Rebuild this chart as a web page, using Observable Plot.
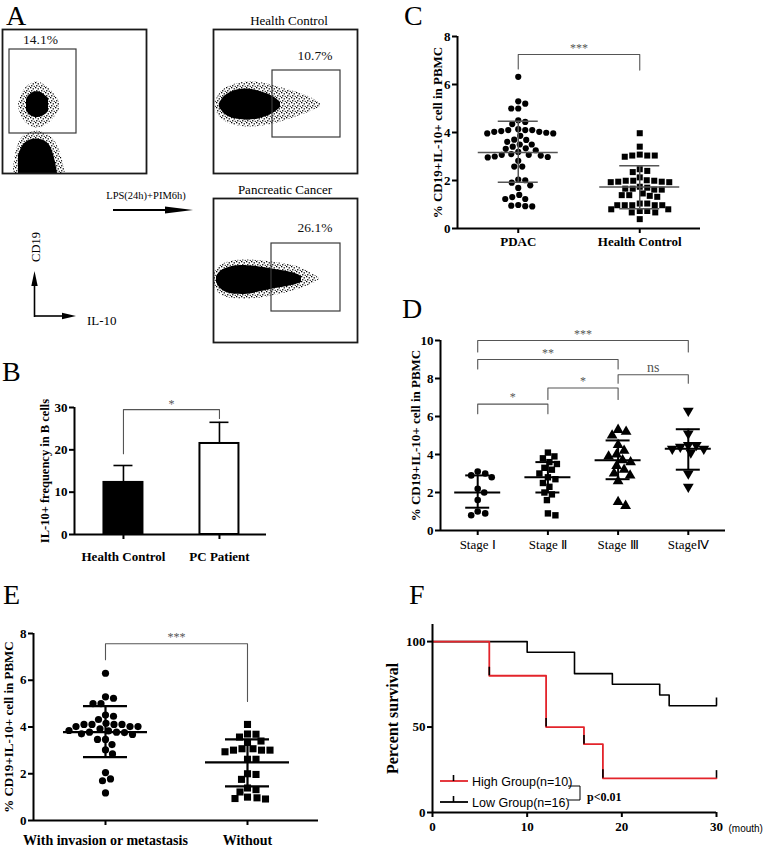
<!DOCTYPE html>
<html><head><meta charset="utf-8">
<script src="https://cdn.jsdelivr.net/npm/d3@7"></script>
<script src="https://cdn.jsdelivr.net/npm/@observablehq/plot@0.6"></script>
<style>
html,body{margin:0;padding:0;background:#fff;}
#fig{position:relative;width:763px;height:851px;overflow:hidden;background:#fff;}
#fig .p{position:absolute;}
#fig svg{overflow:visible;display:block;}
</style></head><body>
<svg width="0" height="0" style="position:absolute">
  <defs>
    <pattern id="speck" width="5" height="5" patternUnits="userSpaceOnUse">
      <rect x="0" y="0" width="1.3" height="1.3" fill="black"/>
      <rect x="2.6" y="1.2" width="1.3" height="1.3" fill="black"/>
      <rect x="1.1" y="3.1" width="1.3" height="1.3" fill="black"/>
      <rect x="3.7" y="3.8" width="1.1" height="1.1" fill="black"/>
    </pattern>
  </defs>
</svg>
<div id="fig"></div>
<script>
// ================= DATA =================
// ---- Panel A: flow cytometry (channel units 0-144) ----
const flowTitles = ["", "Health Control", "Pancreatic Cancer"];
const flowPct = ["14.1%", "10.7%", "26.1%"];
const flowPctX = [38, 101.5, 101.5];
const flowPctY = [133.5, 118, 114.5];
const flowGateX1 = [7, 59, 58];
const flowGateX2 = [74, 127, 127];
const flowGateY1 = [40, 36, 31];
const flowGateY2 = [124, 103, 99];
// blob outlines: [IL-10, lower CD19 edge, upper CD19 edge]
const leftUpperHalo = [[16,66,70],[19,56,80],[24,50,87],[30,46,91],[36,45,92],[42,47,89],[48,51,84],[53,57,78],[57,64,72]];
const leftUpperCore = [[24,63,74],[27,58,79],[32,56,82],[37,56,82],[42,58,79],[46,62,75]];
const leftLowerHalo = [[11,0,6],[14,0,26],[19,0,37],[26,0,41],[34,0,43],[42,0,41],[50,0,36],[56,0,27],[60,0,14],[63,0,0]];
const leftLowerCore = [[16,0,18],[20,0,29],[27,0,34],[35,0,35],[43,0,33],[49,0,27],[53,0,12],[55,0,0]];
const hcHalo = [[2,64,72],[6,56,81],[14,50,87],[26,47,91],[40,46,92],[54,48,90],[66,51,86],[78,55,83],[90,59,79],[100,63,75],[107,67,70]];
const hcCore = [[6,66,70],[10,60,77],[16,56,81],[24,54,84],[34,53,85],[44,54,83],[54,57,80],[62,61,76],[67,66,71]];
const pcHalo = [[0,58,66],[4,49,76],[14,44,81],[30,43,83],[46,44,82],[62,47,80],[78,51,78],[92,55,73],[102,60,67],[106,63,64]];
const pcCore = [[3,60,66],[7,53,72],[14,49,75],[24,48,77],[34,48,77],[44,50,76],[56,53,74],[68,55,72],[80,57,70],[88,60,66]];

// ---- Panel B ----
const bCats = ["Health Control", "PC Patient"];
const bMean = [12.3, 21.5];
const bSD = [4.0, 5.0];
const bTicks = [0, 10, 20, 30];

// ---- Panel C ----
const cCats = ["PDAC", "Health Control"];
const cPDAC = [6.32,5.2,5.0,5.0,5.3,4.44,4.35,4.51,4.14,4.10,4.06,3.99,3.96,3.86,3.96,4.03,4.03,4.10,4.10,
  3.70,3.61,3.50,3.41,3.50,3.69,3.32,3.19,3.07,2.96,3.00,2.98,3.04,3.07,2.82,3.10,3.26,3.34,
  2.58,2.58,2.01,1.80,1.91,2.04,1.69,1.23,1.40,1.31,1.23,0.93,0.92,0.95,0.98];
const cHC = [3.97,3.41,3.04,3.04,2.99,3.04,3.08,2.47,2.40,2.35,2.01,1.99,1.95,2.13,1.93,1.95,1.93,1.99,1.99,
  1.62,1.66,1.66,1.74,1.70,1.62,1.46,1.36,1.32,1.39,1.39,0.97,0.97,1.04,0.97,1.04,0.97,0.97,
  0.73,0.67,0.80,0.73,0.67,0.80,0.39];
const cMean = [3.17, 1.73];
const cLow = [1.93, 0.82];
const cHigh = [4.47, 2.61];
const cTicks = [0, 2, 4, 6, 8];

// ---- Panel D ----
const dCats = ["Stage Ⅰ", "Stage Ⅱ", "Stage Ⅲ", "StageⅣ"];
const dStage1 = [3.1,3.0,2.9,2.8,2.2,2.0,1.6,1.0,0.9,0.8];
const dStage2 = [4.1,3.9,3.8,3.6,3.5,3.3,3.2,3.0,2.8,2.7,2.5,2.3,2.0,1.9,1.6,0.9,0.8];
const dStage3 = [5.2,5.0,5.3,4.5,4.2,4.0,3.9,3.7,3.6,3.4,3.2,3.0,2.9,2.6,1.5,1.3];
const dStage4 = [6.3,5.1,4.5,4.5,4.4,4.3,4.3,4.1,3.0,2.3];
const dMean = [2.0, 2.8, 3.7, 4.3];
const dLow = [1.2, 2.0, 2.7, 3.2];
const dHigh = [2.9, 3.6, 4.74, 5.33];
const dTicks = [0, 2, 4, 6, 8, 10];

// ---- Panel E ----
const eCats = ["With invasion or metastasis", "Without"];
const eWith = [6.3,5.23,5.0,5.0,5.29,4.51,4.32,4.46,3.92,4.11,4.11,4.02,4.02,4.02,4.11,4.11,4.16,
  3.83,3.71,3.78,3.78,3.68,3.76,3.85,3.47,3.47,3.25,3.02,2.85,2.05,1.78,1.70,1.18];
const eWithout = [4.11,3.70,3.57,3.69,3.40,3.34,3.01,3.01,3.07,3.07,2.94,3.01,2.62,2.62,1.97,1.76,2.00,
  1.39,1.32,1.22,0.94,0.92,0.97,1.00];
const eMean = [3.78, 2.49];
const eLow = [2.71, 1.46];
const eHigh = [4.89, 3.47];
const eTicks = [0, 2, 4, 6, 8];

// ---- Panel F (Kaplan-Meier) ----
const kmHighT = [0, 6, 12, 16, 18, 30];
const kmHighS = [100, 80, 50, 40, 20, 20];
const kmLowT = [0, 10, 15, 19, 24, 25, 30];
const kmLowS = [100, 93.75, 81.25, 75, 68.75, 62.5, 62.5];
const kmNames = ["High Group(n=10)", "Low Group(n=16)"];
const fYTicks = [0, 50, 100];
const fXTicks = [0, 10, 20, 30];

// ================= DRAWING =================
const fig = document.getElementById("fig");
const SERIF = "'Liberation Serif', 'Times New Roman', serif";
const SANS = "'Liberation Sans', Arial, sans-serif";
function place(node, left, top) {
  const d = document.createElement("div");
  d.className = "p"; d.style.left = left + "px"; d.style.top = top + "px";
  d.appendChild(node); fig.appendChild(d);
}

// ---------- A: flow plots ----------
function flowPlot(i, blobs, left, top) {
  const marks = [];
  for (const [prof, f] of blobs) {
    marks.push(Plot.areaY(prof, {x: d => d[0], y1: d => d[1], y2: d => d[2], curve: "basis", fill: f}));
  }
  marks.push(Plot.rect([{x1: flowGateX1[i], x2: flowGateX2[i], y1: flowGateY1[i], y2: flowGateY2[i]}],
    {x1: "x1", x2: "x2", y1: "y1", y2: "y2", fill: "none", stroke: "#3a3a3a", strokeWidth: 1.2}));
  marks.push(Plot.text([flowPct[i]], {x: () => flowPctX[i], y: () => flowPctY[i], text: d => d, fontSize: 13.5, fill: "#111"}));
  marks.push(Plot.frame({stroke: "#1a1a1a", strokeWidth: 1.8}));
  const svg = Plot.plot({
    width: 148, height: 148, margin: 2,
    x: {domain: [0, 144], axis: null}, y: {domain: [0, 144], axis: null},
    style: {fontFamily: SERIF, background: "transparent"},
    marks
  });
  place(svg, left, top);
}
const SPECK = "url(#speck)";
flowPlot(0, [[leftUpperHalo, SPECK], [leftUpperCore, "black"], [leftLowerHalo, SPECK], [leftLowerCore, "black"]], 0, 27);
flowPlot(1, [[hcHalo, SPECK], [hcCore, "black"]], 211, 27);
flowPlot(2, [[pcHalo, SPECK], [pcCore, "black"]], 211, 196);

// ---------- helpers for column scatter panels ----------
function swarm(values, ky, kx, gap) {
  const order = d3.range(values.length).sort((a, b) => d3.descending(values[a], values[b]) || a - b);
  const placed = [];
  const off = new Array(values.length).fill(0);
  for (const i of order) {
    const y = values[i] * ky;
    let chosen = 0;
    for (let k = 0; k < 800; k++) {
      const o = k === 0 ? 0 : (k % 2 ? 1 : -1) * Math.ceil(k / 2) * 0.5;
      let ok = true;
      for (const p of placed) {
        const dy = p.y - y;
        if (Math.abs(dy) >= gap) continue;
        const dx = p.x - o;
        if (dx * dx + dy * dy < gap * gap) { ok = false; break; }
      }
      if (ok) { chosen = o; break; }
    }
    placed.push({x: chosen, y});
    off[i] = chosen / kx;
  }
  return off;
}

function columnPanel(c) {
  const kx = (c.width - c.ml - c.mr) / (c.xDomain[1] - c.xDomain[0]);
  const ky = (c.height - c.mt - c.mb) / (c.yDomain[1] - c.yDomain[0]);
  const marks = [];
  marks.push(Plot.ruleX([c.xDomain[0]], {y1: c.yDomain[0], y2: c.yDomain[1], stroke: "black", strokeWidth: 2}));
  marks.push(Plot.ruleY([c.yDomain[0]], {x1: c.xDomain[0], x2: c.xDomain[1], stroke: "black", strokeWidth: 2}));
  marks.push(Plot.axisY({ticks: c.yTicks, tickSize: 5, tickPadding: 2, strokeWidth: 2, fontSize: 13, fontWeight: "bold", label: null}));
  marks.push(Plot.axisX({ticks: c.cats.map((_, i) => i + 1), tickFormat: i => c.cats[i - 1], tickSize: 5, tickPadding: c.xPad,
    strokeWidth: 2, fontSize: c.xFont, fontWeight: c.xWeight, label: null}));
  c.groups.forEach((g, gi) => {
    const offs = swarm(g.values, ky, kx, g.gap);
    const pts = g.values.map((v, i) => ({x: gi + 1 + offs[i], v}));
    marks.push(Plot.dot(pts, {x: "x", y: "v", symbol: g.symbol, r: g.r, fill: "black", stroke: "none", rotate: g.rotate || 0}));
  });
  const stats = c.cats.map((_, i) => ({i: i + 1, m: c.means[i], lo: c.lows[i], hi: c.highs[i]}));
  const mh = c.meanHalf / kx, sh = c.sdHalf / kx;
  marks.push(Plot.ruleX(stats, {x: "i", y1: "lo", y2: "hi", stroke: c.lineColor, strokeWidth: c.lineWidth}));
  marks.push(Plot.ruleY(stats, {y: "m", x1: d => d.i - mh, x2: d => d.i + mh, stroke: c.lineColor, strokeWidth: c.lineWidth}));
  marks.push(Plot.ruleY(stats, {y: "lo", x1: d => d.i - sh, x2: d => d.i + sh, stroke: c.lineColor, strokeWidth: c.lineWidth}));
  marks.push(Plot.ruleY(stats, {y: "hi", x1: d => d.i - sh, x2: d => d.i + sh, stroke: c.lineColor, strokeWidth: c.lineWidth}));
  const bp = [];
  c.brackets.forEach((b, k) => {
    bp.push({k, x: b.a, y: b.ya}, {k, x: b.a, y: b.y}, {k, x: b.b, y: b.y}, {k, x: b.b, y: b.yb});
  });
  marks.push(Plot.line(bp, {x: "x", y: "y", z: "k", stroke: "#555", strokeWidth: 1.1}));
  marks.push(Plot.text(c.brackets, {x: b => (b.a + b.b) / 2, y: "y", text: "label", dy: -3, fill: "#555",
    fontSize: b => b.size || 12, lineAnchor: "bottom", fontWeight: "normal"}));
  marks.push(Plot.text([c.ylabel], {frameAnchor: "left", textAnchor: "middle", rotate: -90, dx: c.ylabelDx,
    fontSize: c.ylabelSize, fontWeight: "bold", fill: "black"}));
  const svg = Plot.plot({
    width: c.width, height: c.height, marginLeft: c.ml, marginRight: c.mr, marginTop: c.mt, marginBottom: c.mb,
    x: {domain: c.xDomain, axis: null}, y: {domain: c.yDomain, axis: null},
    style: {fontFamily: SERIF, fontSize: "13px", color: "black", background: "transparent"},
    marks
  });
  place(svg, c.left, c.top);
}

// ---------- C ----------
columnPanel({
  left: 380, top: 0, width: 383, height: 255, ml: 77, mr: 63, mt: 36, mb: 27,
  xDomain: [0.5, 2.5], yDomain: [0, 8], yTicks: cTicks, cats: cCats, xPad: 3, xFont: 13, xWeight: "bold",
  groups: [{values: cPDAC, symbol: "circle", r: 3.1, gap: 7}, {values: cHC, symbol: "square", r: 3.4, gap: 7.2}],
  means: cMean, lows: cLow, highs: cHigh, meanHalf: 40, sdHalf: 20, lineColor: "#555", lineWidth: 1.5,
  brackets: [{a: 1, b: 2, y: 7.25, ya: 6.65, yb: 6.6, label: "***"}],
  ylabel: "% CD19+IL-10+ cell in PBMC", ylabelDx: -20, ylabelSize: 13
});

// ---------- D ----------
columnPanel({
  left: 380, top: 300, width: 383, height: 270, ml: 60, mr: 38, mt: 40, mb: 40,
  xDomain: [0.47, 4.53], yDomain: [0, 10], yTicks: dTicks, cats: dCats, xPad: 4, xFont: 13, xWeight: "normal",
  groups: [
    {values: dStage1, symbol: "circle", r: 3.3, gap: 7.5},
    {values: dStage2, symbol: "square", r: 3.6, gap: 7.5},
    {values: dStage3, symbol: "triangle", r: 4, gap: 8},
    {values: dStage4, symbol: "triangle", r: 4, gap: 8, rotate: 180}
  ],
  means: dMean, lows: dLow, highs: dHigh, meanHalf: 23, sdHalf: 12, lineColor: "black", lineWidth: 2,
  brackets: [
    {a: 1, b: 4, y: 10, ya: 9.4, yb: 9.4, label: "***"},
    {a: 1, b: 3, y: 9.0, ya: 8.5, yb: 8.5, label: "**"},
    {a: 3, b: 4, y: 8.2, ya: 7.75, yb: 7.75, label: "ns", size: 14},
    {a: 2, b: 3, y: 7.5, ya: 6.9, yb: 6.9, label: "*"},
    {a: 1, b: 2, y: 6.65, ya: 6.15, yb: 6.15, label: "*"}
  ],
  ylabel: "% CD19+IL-10+ cell in PBMC", ylabelDx: -25, ylabelSize: 13
});

// ---------- E ----------
columnPanel({
  left: 0, top: 570, width: 380, height: 281, ml: 33, mr: 62, mt: 63, mb: 31,
  xDomain: [0.493, 2.5], yDomain: [0, 8], yTicks: eTicks, cats: eCats, xPad: 10, xFont: 14, xWeight: "bold",
  groups: [{values: eWith, symbol: "circle", r: 3.6, gap: 8}, {values: eWithout, symbol: "square", r: 4, gap: 8.2}],
  means: eMean, lows: eLow, highs: eHigh, meanHalf: 42, sdHalf: 22, lineColor: "black", lineWidth: 2.2,
  brackets: [{a: 1, b: 2, y: 7.56, ya: 6.88, yb: 5.09, label: "***"}],
  ylabel: "% CD19+IL-10+ cell in PBMC", ylabelDx: -25, ylabelSize: 13
});

// ---------- B ----------
(function () {
  const width = 290, height = 190, ml = 74, mr = 24, mt = 27, mb = 36;
  const xDomain = [0.49, 2.49];
  const kx = (width - ml - mr) / (xDomain[1] - xDomain[0]);
  const bw = 19.5 / kx, cap = 9.5 / kx;
  const bars = bCats.map((c, i) => ({i: i + 1, m: bMean[i], top: bMean[i] + bSD[i], fill: i === 0 ? "black" : "white"}));
  const brk = [{x: 1, y: 19.1}, {x: 1, y: 29.5}, {x: 2, y: 29.5}, {x: 2, y: 27.4}];
  const svg = Plot.plot({
    width, height, marginLeft: ml, marginRight: mr, marginTop: mt, marginBottom: mb,
    x: {domain: xDomain, axis: null}, y: {domain: [0, 30], axis: null},
    style: {fontFamily: SERIF, fontSize: "13px", color: "black", background: "transparent"},
    marks: [
      Plot.ruleX(bars, {x: "i", y1: "m", y2: "top", stroke: "black", strokeWidth: 1.6}),
      Plot.ruleY(bars, {y: "top", x1: d => d.i - cap, x2: d => d.i + cap, stroke: "black", strokeWidth: 1.6}),
      Plot.rectY(bars, {x1: d => d.i - bw, x2: d => d.i + bw, y1: 0, y2: "m", fill: "fill", stroke: "black", strokeWidth: 2}),
      Plot.ruleX([xDomain[0]], {y1: 0, y2: 30, stroke: "black", strokeWidth: 2}),
      Plot.ruleY([0], {x1: xDomain[0], x2: xDomain[1], stroke: "black", strokeWidth: 2}),
      Plot.axisY({ticks: bTicks, tickSize: 5, tickPadding: 2, strokeWidth: 2, fontSize: 13, fontWeight: "bold", label: null}),
      Plot.axisX({ticks: [1, 2], tickFormat: i => bCats[i - 1], tickSize: 5, tickPadding: 12, strokeWidth: 2, fontSize: 13, fontWeight: "bold", label: null}),
      Plot.line(brk, {x: "x", y: "y", stroke: "#555", strokeWidth: 1.1}),
      Plot.text(["*"], {x: 1.5, y: 29.5, text: d => d, lineAnchor: "bottom", dy: -2, fill: "#555", fontSize: 12}),
      Plot.text(["IL-10+ frequency in B cells"], {frameAnchor: "left", textAnchor: "middle", rotate: -90, dx: -30, fontSize: 12.5, fontWeight: "bold"})
    ]
  });
  place(svg, 0, 380);
})();

// ---------- F ----------
(function () {
  const high = kmHighT.map((t, i) => ({t, s: kmHighS[i]}));
  const low = kmLowT.map((t, i) => ({t, s: kmLowS[i]}));
  const drops = high.slice(1, -1);
  const svg = Plot.plot({
    width: 383, height: 281, marginLeft: 52, marginRight: 47, marginTop: 54, marginBottom: 39,
    x: {domain: [0, 30], axis: null}, y: {domain: [0, 110], axis: null},
    style: {fontFamily: SERIF, fontSize: "13px", color: "black", background: "transparent"},
    marks: [
      Plot.line(low, {x: "t", y: "s", curve: "step-after", stroke: "black", strokeWidth: 1.6}),
      Plot.line(high, {x: "t", y: "s", curve: "step-after", stroke: "#e3242b", strokeWidth: 1.8}),
      Plot.ruleX(drops, {x: "t", y1: "s", y2: d => d.s + 5, stroke: "black", strokeWidth: 1.6}),
      Plot.ruleX([high[high.length - 1]], {x: "t", y1: "s", y2: d => d.s + 4.5, stroke: "black", strokeWidth: 1.6}),
      Plot.ruleX([low[low.length - 1]], {x: "t", y1: "s", y2: d => d.s + 4.5, stroke: "black", strokeWidth: 1.6}),
      Plot.ruleX([0], {y1: 0, y2: 110, stroke: "black", strokeWidth: 2}),
      Plot.ruleY([0], {x1: 0, x2: 30, stroke: "black", strokeWidth: 2}),
      Plot.axisY({ticks: fYTicks, tickSize: 5, tickPadding: 2, strokeWidth: 2, fontSize: 13, fontWeight: "bold", label: null}),
      Plot.axisX({ticks: fXTicks, tickSize: 5, tickPadding: 4, strokeWidth: 2, fontSize: 13, fontWeight: "bold", label: null}),
      Plot.text(["(mouth)"], {frameAnchor: "bottom-right", textAnchor: "start", lineAnchor: "middle", dx: 12, dy: 16, text: d => d, fontFamily: SANS, fontSize: 10}),
      Plot.text(["Percent survival"], {frameAnchor: "left", textAnchor: "middle", rotate: -90, dx: -40, fontSize: 16, fontWeight: "bold"})
    ]
  });
  place(svg, 380, 570);
})();

// ---------- overlay annotations ----------
const ov = `
<svg xmlns="http://www.w3.org/2000/svg" width="763" height="851" style="position:absolute;left:0;top:0;pointer-events:none;font-family:${SERIF}">
  <g font-size="28" fill="black">
    <text x="6" y="25">A</text>
    <text x="2" y="381">B</text>
    <text x="404" y="25">C</text>
    <text x="402" y="318">D</text>
    <text x="3" y="604">E</text>
    <text x="409" y="604">F</text>
  </g>
  <text x="289" y="25" font-size="13" text-anchor="middle">${flowTitles[1]}</text>
  <text x="285" y="194" font-size="13" text-anchor="middle">${flowTitles[2]}</text>
  <text x="146" y="199" font-size="10.5" text-anchor="middle">LPS(24h)+PIM6h)</text>
  <line x1="113" y1="210" x2="168" y2="210" stroke="black" stroke-width="2"/>
  <polygon points="165,206.5 193,210 165,213.5" fill="black"/>
  <text transform="translate(40,247) rotate(-90)" font-size="12.5" text-anchor="middle">CD19</text>
  <line x1="34.5" y1="317" x2="34.5" y2="284" stroke="black" stroke-width="1.6"/>
  <polygon points="31.3,286 34.5,271 37.7,286" fill="black"/>
  <line x1="34" y1="316" x2="64" y2="316" stroke="black" stroke-width="1.6"/>
  <polygon points="62,312.8 76,316 62,319.2" fill="black"/>
  <text x="87" y="325" font-size="13">IL-10</text>
  <g font-family="${SANS}" font-size="12.5">
    <line x1="440" y1="781" x2="468" y2="781" stroke="#e3242b" stroke-width="1.8"/>
    <line x1="453.5" y1="775" x2="453.5" y2="781" stroke="black" stroke-width="1.6"/>
    <text x="472" y="786">${kmNames[0]}</text>
    <line x1="440" y1="802" x2="468" y2="802" stroke="black" stroke-width="1.8"/>
    <line x1="453.5" y1="796" x2="453.5" y2="802" stroke="black" stroke-width="1.6"/>
    <text x="472" y="807">${kmNames[1]}</text>
  </g>
  <polyline points="568,786 580,786 580,800 568,800" fill="none" stroke="black" stroke-width="1"/>
  <text x="587" y="801" font-size="12" font-weight="bold">p&lt;0.01</text>
</svg>`;
fig.insertAdjacentHTML("beforeend", ov);
</script></body></html>
